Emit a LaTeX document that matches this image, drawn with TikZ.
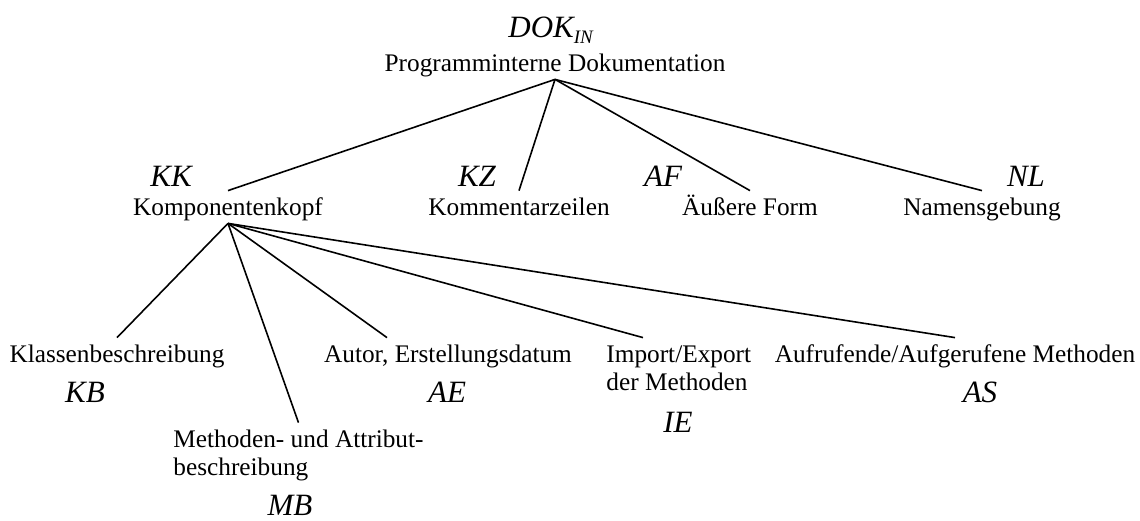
\documentclass[tikz,border=0pt]{standalone}
\usepackage{fontspec}
\setmainfont{Liberation Serif}
\usetikzlibrary{positioning}

\begin{document}
\begin{tikzpicture}[
    x=0.5pt, y=-0.5pt,
    font=\fontsize{12.65pt}{14pt}\selectfont,
    item/.style={
      % one line of text, fixed box so the lines meet it evenly
      inner sep=0pt,
      anchor=base,
      text height=12pt,
      text depth=4pt,
    },
    itemtwo/.style={
      % two lines, set flush left; base is the last line
      inner sep=0pt,
      anchor=base west,
      align=left,
      text height=26pt,
    },
    abbr/.style={
      inner sep=0pt,
      anchor=base,
      font=\fontsize{15.5pt}{18pt}\selectfont\itshape,
    },
    branch/.style={line width=0.8pt},
  ]
  \useasboundingbox (0,0) rectangle (1140,520);

  % root
  \node[abbr, anchor=base west] (dokabbr) at (508,37)
    {DOK\raisebox{-3pt}{\fontsize{9.5pt}{10pt}\selectfont IN}};
  \node[item] (dok) at (555,71) {Programminterne Dokumentation};

  % first level
  \node[item] (kk) at (228,215) {Komponentenkopf};
  \node[item] (kz) at (519,215) {Kommentarzeilen};
  \node[item] (af) at (750,215) {Äußere Form};
  \node[item] (nl) at (982,215) {Namensgebung};

  \node[abbr] (kkabbr) at (171,186) {KK};
  \node[abbr] (kzabbr) at (477,186) {KZ};
  \node[abbr] (afabbr) at (663,186) {AF};
  \node[abbr] (nlabbr) at (1026,186) {NL};

  % second level, below the Komponentenkopf
  \node[item] (kb) at (117,362) {Klassenbeschreibung};
  \node[itemtwo] (mb) at (173,475) {Methoden- und Attribut-\\beschreibung};
  \node[item] (ae) at (448,362) {Autor, Erstellungsdatum};
  \node[itemtwo] (ie) at (606,390) {Import/Export\\der Methoden};
  \node[item] (as) at (955,362) {Aufrufende/Aufgerufene Methoden};

  \node[abbr] (kbabbr) at (85,402) {KB};
  \node[abbr] (mbabbr) at (290,515) {MB};
  \node[abbr] (aeabbr) at (447,402) {AE};
  \node[abbr] (ieabbr) at (678,432) {IE};
  \node[abbr] (asabbr) at (980,402) {AS};

  \draw[branch] (dok.south) -- (kk.north);
  \draw[branch] (dok.south) -- (kz.north);
  \draw[branch] (dok.south) -- (af.north);
  \draw[branch] (dok.south) -- (nl.north);

  \draw[branch] (kk.south) -- (kb.north);
  \draw[branch] (kk.south) -- (mb.north);
  \draw[branch] (kk.south) -- ([xshift=-30.5pt]ae.north);
  \draw[branch] (kk.south) -- ([xshift=18.5pt]ie.north west);
  \draw[branch] (kk.south) -- (as.north);
\end{tikzpicture}
\end{document}
